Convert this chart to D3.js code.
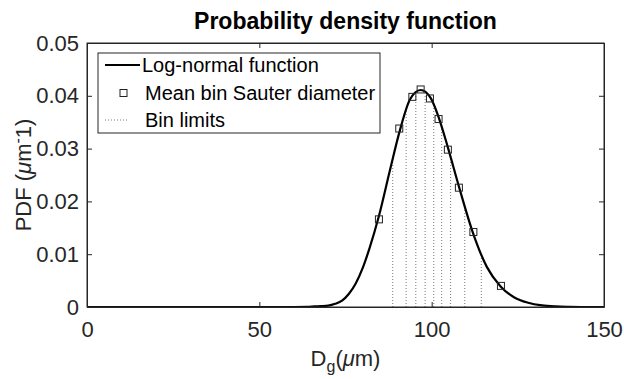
<!DOCTYPE html>
<html>
<head>
<meta charset="utf-8">
<script src="https://cdn.jsdelivr.net/npm/d3@7"></script>
<style>
  body { margin: 0; background: #fff; }
  text { font-family: "Liberation Sans", Arial, Helvetica, sans-serif; fill: #262626; }
</style>
</head>
<body>
<div id="chart"></div>
<script>
// log-normal curve
const curveX = [0, 60, 64, 66, 68, 70, 72, 74, 76, 78, 80, 82, 84.6, 88, 90.8, 93.7, 96.8, 99.7, 102.2, 104.8, 108, 111.9, 116, 120, 124, 128, 132, 136, 140, 145, 150];
const curveY = [0, 0, 0.00003, 0.0001, 0.00015, 0.00025, 0.0006, 0.0012, 0.0025, 0.0045, 0.0074, 0.0112, 0.0170, 0.0262, 0.0335, 0.0393, 0.0411, 0.0396, 0.0356, 0.0300, 0.0226, 0.0142, 0.0076, 0.0039, 0.0018, 0.0008, 0.0003, 0.0001, 0.00003, 0, 0];

// mean bin Sauter diameter markers
const binX = [84.7, 90.6, 94.4, 96.8, 99.5, 102.0, 104.7, 107.9, 112.1, 120.1];
const binY = [0.0166, 0.0338, 0.0398, 0.0412, 0.0395, 0.0356, 0.0298, 0.0226, 0.0142, 0.0040];

// bin limits and the curve height at each
const limitX = [88.7, 92.6, 95.4, 98.1, 100.6, 102.9, 105.5, 109.6, 114.4];
const limitY = [0.0285, 0.0375, 0.0405, 0.0407, 0.0385, 0.0342, 0.0283, 0.0192, 0.0098];

const xTicks = [0, 50, 100, 150];
const yTicks = [0, 0.01, 0.02, 0.03, 0.04, 0.05];

const width = 624;
const height = 379;
const margin = { top: 43, right: 20, bottom: 72, left: 87 };
const innerW = width - margin.left - margin.right;
const innerH = height - margin.top - margin.bottom;

const xScale = d3.scaleLinear().domain([0, 150]).range([0, innerW]);
const yScale = d3.scaleLinear().domain([0, 0.05]).range([innerH, 0]);

const svg = d3.select('#chart').append('svg')
    .attr('width', width)
    .attr('height', height);

const g = svg.append('g')
    .attr('transform', `translate(${margin.left},${margin.top})`);

// bin limits
g.selectAll('.limit')
  .data(limitX)
  .join('line')
    .attr('class', 'limit')
    .attr('x1', d => xScale(d))
    .attr('x2', d => xScale(d))
    .attr('y1', yScale(0))
    .attr('y2', (d, i) => yScale(limitY[i]))
    .attr('stroke', '#555')
    .attr('stroke-width', 0.8)
    .attr('stroke-dasharray', '1,2');

// curve
const curve = curveX.map((d, i) => [d, curveY[i]]);
const line = d3.line()
    .x(d => xScale(d[0]))
    .y(d => yScale(d[1]))
    .curve(d3.curveMonotoneX);

g.append('path').datum(curve)
    .attr('fill', 'none')
    .attr('stroke', '#000')
    .attr('stroke-width', 2.2)
    .attr('d', line);

// markers
const sq = 7;
g.selectAll('.marker')
  .data(binX)
  .join('rect')
    .attr('class', 'marker')
    .attr('x', d => xScale(d) - sq / 2)
    .attr('y', (d, i) => yScale(binY[i]) - sq / 2)
    .attr('width', sq)
    .attr('height', sq)
    .attr('fill', 'none')
    .attr('stroke', '#222')
    .attr('stroke-width', 1);

// axes
g.append('g')
    .attr('transform', `translate(0,${innerH})`)
    .call(d3.axisBottom(xScale).tickValues(xTicks).tickSizeInner(-5).tickSizeOuter(0).tickPadding(14));
g.append('g')
    .call(d3.axisLeft(yScale).tickValues(yTicks).tickFormat(d => d === 0 ? '0' : d3.format('.2f')(d))
      .tickSizeInner(-5).tickSizeOuter(0).tickPadding(8));
g.append('g')
    .call(d3.axisTop(xScale).tickValues(xTicks).tickSizeInner(-5).tickSizeOuter(0).tickFormat(''));
g.append('g')
    .attr('transform', `translate(${innerW},0)`)
    .call(d3.axisRight(yScale).tickValues(yTicks).tickSizeInner(-5).tickSizeOuter(0).tickFormat(''));

g.selectAll('.domain').attr('stroke', '#262626');
g.selectAll('.tick line').attr('stroke', '#262626');
g.selectAll('.tick text').attr('font-size', 22).attr('fill', '#262626')
    .style('font-family', '"Liberation Sans", Arial, sans-serif');

// box
g.append('rect')
    .attr('width', innerW).attr('height', innerH)
    .attr('fill', 'none').attr('stroke', '#262626').attr('stroke-width', 1);

// title
svg.append('text')
    .attr('x', margin.left + innerW / 2)
    .attr('y', 29)
    .attr('text-anchor', 'middle')
    .attr('font-size', 23)
    .attr('font-weight', 'bold')
    .style('fill', '#000')
    .text('Probability density function');

// x label
const xl = svg.append('text')
    .attr('x', margin.left + innerW / 2)
    .attr('y', 366)
    .attr('text-anchor', 'middle')
    .attr('font-size', 22);
xl.append('tspan').text('D');
xl.append('tspan').attr('dy', 6).attr('font-size', 16).text('g');
xl.append('tspan').attr('dy', -6).text('(');
xl.append('tspan').attr('font-style', 'italic').text('μ');
xl.append('tspan').text('m)');

// y label
const yl = svg.append('text')
    .attr('transform', `translate(31,${margin.top + innerH / 2}) rotate(-90)`)
    .attr('text-anchor', 'middle')
    .attr('font-size', 22);
yl.append('tspan').text('PDF (');
yl.append('tspan').attr('font-style', 'italic').text('μ');
yl.append('tspan').text('m');
yl.append('tspan').attr('dy', -8).attr('font-size', 16).text('-');
yl.append('tspan').attr('dy', 8).text('1)');

// legend
const lg = svg.append('g').attr('transform', 'translate(98,53)');
lg.append('rect')
    .attr('width', 282).attr('height', 80)
    .attr('fill', '#fff').attr('stroke', '#262626').attr('stroke-width', 1);

const rowY = [12, 40, 67];
lg.append('line')
    .attr('x1', 7).attr('x2', 42).attr('y1', rowY[0]).attr('y2', rowY[0])
    .attr('stroke', '#000').attr('stroke-width', 2.2);
lg.append('rect')
    .attr('x', 25 - sq / 2 + 0.5).attr('y', rowY[1] - sq / 2)
    .attr('width', sq).attr('height', sq)
    .attr('fill', 'none').attr('stroke', '#222');
lg.append('line')
    .attr('x1', 7).attr('x2', 30).attr('y1', rowY[2]).attr('y2', rowY[2])
    .attr('stroke', '#555').attr('stroke-width', 0.8).attr('stroke-dasharray', '1,2');

const legendLabels = ['Log-normal function', 'Mean bin Sauter diameter', 'Bin limits'];
lg.selectAll('.lt')
  .data(legendLabels)
  .join('text')
    .attr('class', 'lt')
    .attr('x', (d, i) => i === 0 ? 44 : 47)
    .attr('y', (d, i) => rowY[i] + 7)
    .attr('font-size', 20)
    .style('fill', '#000')
    .text(d => d);
</script>
</body>
</html>
